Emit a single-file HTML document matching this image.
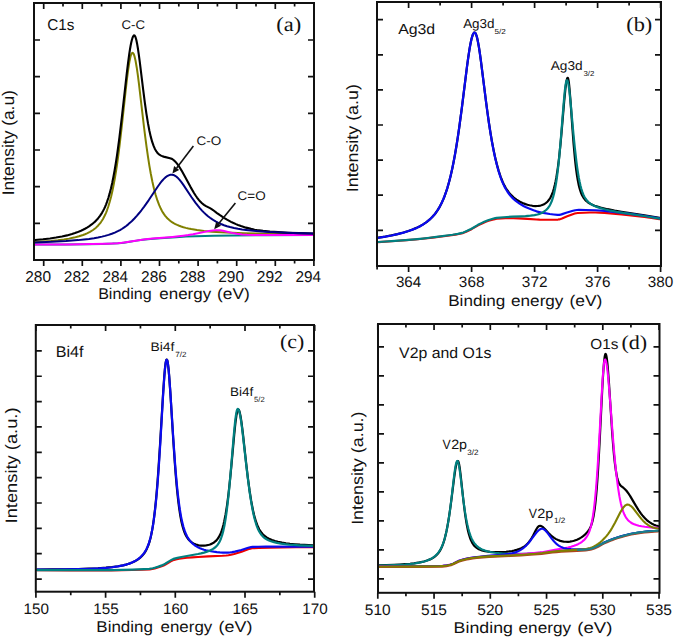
<!DOCTYPE html>
<html><head><meta charset="utf-8"><style>
html,body{margin:0;padding:0;background:#fff;width:675px;height:638px;overflow:hidden}
svg{display:block}
</style></head><body>
<svg width="675" height="638" viewBox="0 0 675 638" text-rendering="geometricPrecision" font-family='"Liberation Sans", sans-serif' fill="#111">
<polyline points="35,244.60 65,244.44 87,244.23 102,243.96 112.60,243.58 118.60,243.18 123.80,242.65 128.20,242.03 136.60,240.63 140.60,240.03 145.20,239.45 150.40,238.94 160.20,238.18 176.20,237.13 186,236.60 195.80,236.21 214,235.73 235,235.43 266,235.24 313,235.10" fill="none" stroke="#008080" stroke-width="2.0" stroke-linejoin="round" stroke-linecap="round"/>
<polyline points="35,242.08 43,241.59 51,240.96 58,240.24 64,239.45 69,238.63 74,237.60 79,236.30 83,235.00 85,234.23 87,233.36 90,231.85 93,229.99 95,228.49 96,227.64 98,225.71 100,223.39 101,222.05 102,220.56 103,218.92 104,217.08 105,215.05 106,212.78 107,210.26 108.40,206.24 109.80,201.58 111.20,196.20 112.40,190.96 113.60,185.08 114.80,178.53 116,171.27 117.20,163.28 118.40,154.56 119.60,145.13 121.80,126.21 126.20,85.70 127.20,77.20 128.20,69.53 129.40,61.85 130.40,57.06 131,55.00 131.40,54.00 131.80,53.30 132,53.07 132.40,52.83 132.80,52.90 133,53.04 133.40,53.54 134,54.80 134.60,56.66 135.60,61.00 136.80,67.98 137.80,74.97 138.80,82.74 144,127.00 145.40,138.21 146.60,147.22 148,156.95 149.40,165.79 150.80,173.75 152.40,181.78 154,188.75 155.60,194.74 157.40,200.44 159.20,205.17 161,209.09 162,210.96 163,212.65 164,214.16 165.20,215.78 166.40,217.22 167.60,218.49 169,219.80 170.40,220.94 172,222.09 173.60,223.09 175.40,224.07 177.20,224.93 179.20,225.76 181.20,226.49 183.40,227.19 185.80,227.86 188.40,228.49 191.20,229.08 197,230.07 204,230.96 212,231.69 221,232.29 232,232.82 244,233.25 257,233.58 273,233.88 291,234.10 313,234.29" fill="none" stroke="#808000" stroke-width="2.0" stroke-linejoin="round" stroke-linecap="round"/>
<polyline points="35,244.57 69,244.38 92,244.11 107,243.75 112.80,243.49 117.60,243.18 121.80,242.78 125.80,242.29 138.80,240.16 145.60,239.25 152.60,238.56 172.60,236.88 178.40,236.29 183.40,235.69 188.20,235.01 193,234.20 206,231.61 209,231.06 213,230.50 215,230.32 217,230.23 218,230.22 220,230.33 223,230.78 225,231.20 232,232.88 237,233.84 242,234.46 247,234.80 253,234.98 262,235.06 313,235.06" fill="none" stroke="#ff00ff" stroke-width="2.0" stroke-linejoin="round" stroke-linecap="round"/>
<polyline points="35,239.95 43,239.23 50,238.43 56,237.58 62,236.51 67,235.40 72,234.04 75,233.07 77,232.35 81,230.71 83,229.77 85,228.74 87,227.61 89,226.36 92,224.21 94,222.55 95,221.64 97,219.61 98,218.48 100,215.91 102,212.84 103,211.08 104,209.13 105,206.98 106,204.59 107,201.94 108.40,197.75 109.60,193.65 111,188.20 112.20,182.91 113.40,177.00 114.60,170.44 115.80,163.22 117,155.32 118.20,146.75 119.40,137.56 121.80,117.55 126.80,73.13 128,63.30 129.20,54.44 130,49.25 130.60,45.80 131.20,42.79 131.80,40.25 132.40,38.20 133,36.66 133.60,35.67 133.80,35.47 134,35.35 134.20,35.33 134.60,35.52 135,36.05 135.40,36.90 136,38.74 136.40,40.32 137,43.17 138,49.04 138.80,54.53 139.80,62.09 143.20,89.86 144.80,102.30 146.40,113.58 148,123.41 149.40,130.75 150.80,136.90 152.20,141.92 153.60,145.94 154.80,148.66 155.40,149.81 156.20,151.14 157,152.26 157.80,153.20 158.60,153.99 159.40,154.64 161,155.62 162.80,156.37 164.60,156.89 170,158.17 170.80,158.42 171.60,158.76 172.80,159.46 174,160.39 175.20,161.53 176.40,162.87 177.60,164.40 178.80,166.10 180.20,168.26 181.60,170.59 184.20,175.22 190.60,187.12 194,192.98 195.60,195.49 197,197.52 199,200.11 200,201.26 202,203.27 204,204.89 206,206.16 210,208.17 212,209.31 213,210.02 217,213.09 220,215.22 224,217.85 227,219.66 231,221.83 233,222.81 236,224.15 238,224.97 241,226.08 246,227.63 251,228.88 254,229.49 257,230.02 263,230.87 270,231.59 278,232.17 288,232.68 299,233.08 313,233.44" fill="none" stroke="#000000" stroke-width="2.1" stroke-linejoin="round" stroke-linecap="round"/>
<polyline points="35,242.53 52,241.86 66,241.07 78,240.12 84,239.50 89,238.89 94,238.15 98,237.45 102,236.61 105,235.89 108.60,234.86 111.80,233.78 114.80,232.60 117.80,231.21 120,230.05 122.20,228.74 124.20,227.41 126.20,225.95 128.20,224.35 130.20,222.60 132.20,220.70 134.40,218.46 136.80,215.83 139.20,213.01 141.60,210.02 144.20,206.58 148.80,200.06 158,186.28 160.20,183.24 162.20,180.74 163.40,179.39 164.60,178.17 165.80,177.12 167,176.24 168.20,175.55 169.20,175.12 170.40,174.80 171.40,174.69 172.20,174.73 173.20,174.93 174.20,175.30 175.20,175.83 176.20,176.52 177.20,177.36 178.20,178.32 179.40,179.63 181.20,181.87 183.20,184.63 191.40,196.97 195.40,202.62 198,205.98 200,208.37 202,210.58 204,212.63 206,214.50 208,216.22 210,217.78 212,219.19 214,220.47 216,221.63 218,222.67 221,224.03 224,225.20 227,226.19 230,227.04 234,228.00 238,228.78 242,229.43 246,229.98 251,230.56 256,231.04 262,231.51 269,231.97 276,232.34 293,233.00 313,233.50" fill="none" stroke="#000080" stroke-width="2.0" stroke-linejoin="round" stroke-linecap="round"/>
<line x1="193.4" y1="146.1" x2="176.65" y2="168.04" stroke="#111" stroke-width="1.6"/><polygon points="172.4,173.6 174.11,166.09 179.19,169.98" fill="#111"/>
<line x1="235.4" y1="203" x2="218.60" y2="223.76" stroke="#111" stroke-width="1.6"/><polygon points="214.2,229.2 216.12,221.75 221.09,225.77" fill="#111"/>
<polyline points="378.50,237.68 385.50,236.54 391.50,235.40 397.50,234.08 403.50,232.52 408.50,230.99 412.50,229.56 416.50,227.89 420.50,225.90 423.50,224.15 426.50,222.11 429.50,219.69 431.50,217.82 432.50,216.79 434.50,214.51 435.50,213.25 437.50,210.44 439.50,207.17 441.50,203.35 443.50,198.89 444.50,196.38 446.50,190.73 447.50,187.56 449.20,181.57 450.60,176.03 452.20,168.96 453.60,162.09 455,154.54 456.40,146.29 457.80,137.35 459.20,127.74 461.80,108.32 467,66.61 468.20,57.77 469.40,49.83 470.20,45.20 470.80,42.13 471.40,39.43 472,37.15 472.60,35.30 473.20,33.90 473.80,32.99 474.20,32.65 474.50,32.56 474.80,32.61 475,32.73 475.50,33.32 476,34.30 476.60,36.00 477,37.42 477.60,39.97 478.80,46.40 479.80,52.88 480.80,60.09 486.20,102.92 487.60,113.41 489,123.25 490.50,132.97 492,141.75 493.50,149.62 495,156.66 496.80,164.13 498.60,170.61 500.50,176.39 501.50,179.04 502.50,181.45 503.50,183.65 504.50,185.64 505.50,187.45 506.50,189.10 508.50,191.98 509.50,193.23 511.50,195.43 513.50,197.29 514.50,198.12 516.50,199.60 519.50,201.46 522.50,202.94 525.50,204.10 527.50,204.71 529.50,205.22 532.50,205.78 535.50,206.05 537.50,206.02 538.50,205.93 540.50,205.55 541.50,205.26 542.80,204.76 544,204.19 545,203.60 546,202.90 546.80,202.24 547.60,201.48 548.40,200.59 549.80,198.66 550.50,197.48 551.20,196.11 552.20,193.80 553,191.58 554,188.25 554.80,185.08 555.60,181.39 556.40,177.13 557.80,168.11 559,158.55 560.40,145.16 561.60,131.97 564.20,101.19 565.40,88.90 566,84.10 566.60,80.54 567,78.96 567.20,78.43 567.50,77.96 567.60,77.89 567.80,77.91 568,78.21 568.20,78.78 568.60,80.73 569,83.65 569.50,88.49 570.40,99.59 572.50,129.45 573.60,143.83 574.80,157.26 575.50,163.92 576.20,169.76 577,175.50 577.80,180.33 578.60,184.38 579.40,187.73 580.20,190.49 581.20,193.27 582.20,195.48 583.40,197.56 584.80,199.44 586.20,200.91 587.80,202.24 589.80,203.55 591.80,204.58 594.50,205.68 597.50,206.66 600.50,207.50 607.50,209.20 614.50,210.60 621.50,211.74 644.50,215.28 659.50,217.84" fill="none" stroke="#000000" stroke-width="2.2" stroke-linejoin="round" stroke-linecap="round"/>
<polyline points="378.50,242.11 391.50,241.25 406.50,240.16 415.50,239.44 422.50,238.79 432.50,237.66 451.40,235.22 455.40,234.65 458.80,234.06 461.20,233.55 462.60,233.17 464.20,232.61 466.20,231.76 471.50,229.19 476.80,226.08 478.60,225.10 482.60,223.20 485.80,221.83 488.60,220.81 492.50,219.66 494.80,219.11 496.80,218.82 501.50,218.51 505.50,218.32 509.50,218.22 513.50,218.21 518.50,218.37 527.50,218.84 536.50,219.52 539.50,219.67 547.60,219.69 558,219.58 559.20,219.41 560.60,219.01 562,218.47 566.60,216.44 573.40,213.99 574.80,213.56 576.20,213.23 577.80,213.01 584,212.72 589.80,212.55 595.50,212.50 599.50,212.60 604.50,212.91 621.50,214.42 628.50,215.11 637.50,216.12 644.50,216.99 651.50,217.97 659.50,219.21" fill="none" stroke="#ee0000" stroke-width="2.1" stroke-linejoin="round" stroke-linecap="round"/>
<polyline points="378.50,237.76 385.50,236.62 391.50,235.48 397.50,234.16 403.50,232.60 408.50,231.06 412.50,229.62 416.50,227.94 418.50,226.99 420.50,225.95 423.50,224.19 426.50,222.13 429.50,219.69 431.50,217.81 432.50,216.77 434.50,214.48 435.50,213.21 437.50,210.38 439.50,207.09 441.50,203.26 443.50,198.78 444.50,196.26 446.50,190.60 447.50,187.42 449.20,181.43 450.60,175.89 452.20,168.82 453.60,161.95 455,154.41 456.40,146.17 457.80,137.25 459.20,127.65 461.80,108.26 467,66.61 468.20,57.78 469.40,49.84 470.20,45.21 470.80,42.14 471.40,39.45 472,37.16 472.60,35.30 473.20,33.90 473.80,32.98 474.20,32.64 474.50,32.54 474.80,32.59 475,32.70 475.50,33.28 476,34.26 476.60,35.95 477,37.37 477.60,39.92 478.80,46.36 479.80,52.86 481,61.59 486.20,103.08 487.60,113.63 489,123.51 490.60,133.91 492.20,143.24 493.80,151.55 495.40,158.93 497.20,166.26 498.80,171.94 500.50,177.14 501.50,179.85 502.50,182.32 503.50,184.57 504.50,186.62 505.50,188.49 507.50,191.77 509.50,194.52 510.50,195.74 512.50,197.90 513.50,198.87 515.50,200.63 517.50,202.19 519.50,203.58 521.50,204.82 523.50,205.94 525.50,206.95 528.50,208.30 533.50,210.30 536.50,211.33 538.50,211.92 540.50,212.42 543.20,212.96 549.80,214.02 553.60,214.50 557.60,214.92 558.50,214.95 559.50,214.86 561.50,214.40 566.20,212.73 573,210.76 575.20,210.23 577,209.99 578.80,209.95 585.80,210.00 595.50,210.25 599.50,210.49 604.50,210.96 630.50,213.96 638.50,215.00 645.50,215.99 659.50,218.23" fill="none" stroke="#0a0af0" stroke-width="2.2" stroke-linejoin="round" stroke-linecap="round"/>
<polyline points="378.50,241.98 391.50,241.10 405.50,240.06 414.50,239.32 422.50,238.57 429.50,237.78 436.50,236.89 452.50,234.72 457.80,233.86 462,232.93 463.40,232.48 465,231.84 467.20,230.83 471,228.95 472.80,227.94 478,224.83 483,222.37 485.60,221.21 488,220.27 493.60,218.52 495.20,218.14 496.60,217.91 503.50,217.26 512.50,216.66 521.50,216.33 525.50,216.11 530.50,215.68 534.50,215.16 537.50,214.51 539.50,213.88 540.50,213.49 542,212.78 543.40,211.99 544.60,211.19 545.80,210.25 546.80,209.32 547.60,208.46 548.40,207.47 549.20,206.33 550,204.99 550.60,203.84 551.80,201.05 553,197.46 554,193.70 555,189.08 556,183.47 557,176.74 557.80,170.48 558.60,163.35 559.40,155.33 560.80,139.38 563.60,104.04 564.80,91.07 565.40,86.10 566,82.52 566.50,80.76 566.80,80.27 567,80.19 567.20,80.28 567.40,80.54 567.60,80.96 567.80,81.54 568.20,83.16 568.80,86.64 569.40,91.21 570.60,102.71 573.40,133.53 574.80,147.72 576.40,161.65 577.20,167.63 578,172.97 578.80,177.69 579.60,181.80 580.50,185.76 581.40,189.09 582.40,192.17 583.40,194.70 584.50,196.96 585.60,198.78 587,200.63 588.60,202.26 590.40,203.69 592.50,204.97 594.50,205.95 597.50,207.13 600.50,208.13 604.50,209.26 610.50,210.70 616.50,211.85 624.50,213.12 645.50,216.27 659.50,218.58" fill="none" stroke="#008080" stroke-width="2.2" stroke-linejoin="round" stroke-linecap="round"/>
<polyline points="37,570.21 70,570.38 111,570.36 122,570.22 132,570.00 142,569.68 149.80,569.34 152.20,569.01 154.80,568.42 157.80,567.55 162.40,566.02 163.60,565.51 165,564.79 170,561.78 172,560.69 174,559.87 175.80,559.43 179.20,558.80 183,558.25 187,557.79 192,557.34 198,556.93 208,556.38 222.40,555.74 226.20,555.48 228.40,555.25 231,554.75 234.20,553.89 241.60,551.68 248.80,549.07 250.40,548.63 252,548.32 253.20,548.20 259,547.94 270,547.65 296,547.30 313,547.20" fill="none" stroke="#ee0000" stroke-width="2.1" stroke-linejoin="round" stroke-linecap="round"/>
<polyline points="37,569.54 52,569.47 66,569.30 78,569.05 89,568.69 98,568.26 106,567.70 112,567.10 118,566.27 123,565.31 126,564.58 128,564.00 130,563.34 132,562.57 135,561.16 137,560.01 138,559.36 140,557.84 141,556.96 142.20,555.76 143.20,554.62 144.20,553.32 145.20,551.83 146,550.47 146.80,548.92 148.20,545.66 149.40,542.13 150.60,537.68 151.80,532.07 152.80,526.34 153.80,519.48 154.80,511.34 155.80,501.80 156.60,493.09 157.40,483.39 158.40,469.86 160,445.28 163,394.81 164.20,377.25 165,368.19 165.60,363.32 166,361.13 166.20,360.37 166.40,359.85 166.60,359.56 166.80,359.50 167,359.70 167.20,360.13 167.40,360.80 168,364.19 168.60,369.47 169.20,376.32 170.40,393.44 173.20,439.02 174.80,462.78 175.80,475.81 176.60,485.09 177.40,493.36 178.40,502.34 179.40,509.91 180.40,516.22 181.40,521.43 182.60,526.47 183.80,530.42 184.40,532.06 185.20,533.97 185.80,535.21 186.60,536.66 187.40,537.91 188.20,538.99 189,539.93 189.80,540.75 191.40,542.10 193,543.14 194,543.67 196,544.51 198,545.10 199,545.31 201,545.58 202,545.65 204,545.64 206,545.45 207,545.28 209,544.79 210,544.47 212,543.63 213,543.09 214,542.45 215.60,541.17 216.40,540.38 217.20,539.47 218.60,537.50 219.80,535.34 221,532.63 221.80,530.44 222.60,527.90 223.40,524.96 224.20,521.58 225.60,514.44 227,505.59 228.40,494.85 230,480.24 231.40,465.69 234.20,434.83 235,426.83 235.60,421.50 236.40,415.67 237,412.45 237.40,410.95 237.80,409.99 238,409.72 238.20,409.60 238.40,409.60 238.60,409.71 239,410.25 239.40,411.23 239.80,412.60 240.60,416.48 241.40,421.61 242.80,432.75 246.20,463.71 247.80,477.32 249.60,490.77 251.20,500.89 252,505.31 253,510.28 254,514.66 255,518.44 256,521.70 257,524.49 258,526.86 259.20,529.26 260.40,531.23 261.80,533.11 263,534.44 264,535.38 265,536.21 267,537.59 269,538.69 272,539.99 275,541.00 278,541.80 282,542.63 286,543.27 290,543.77 295,544.25 300,544.63 313,545.32" fill="none" stroke="#000000" stroke-width="2.2" stroke-linejoin="round" stroke-linecap="round"/>
<polyline points="37,569.65 52,569.61 66,569.45 79,569.18 90,568.82 99,568.38 106,567.88 112,567.27 118,566.42 123,565.43 126,564.67 128,564.06 130,563.36 132,562.56 135,561.07 137,559.85 138,559.15 140,557.54 141,556.61 142.20,555.34 143.20,554.14 144.20,552.79 145,551.57 145.80,550.22 146.60,548.70 147.40,546.98 148.20,545.02 149,542.80 149.60,540.91 150.80,536.43 152,530.86 153.20,523.94 154.20,516.96 155.20,508.71 156.20,499.05 157,490.21 157.80,480.35 158.80,466.56 160.40,441.38 163.20,393.18 164.40,375.47 165,368.59 165.60,363.52 166,361.28 166.20,360.52 166.40,360.02 166.60,359.77 166.80,359.76 167,360.00 167.20,360.46 167.40,361.15 167.80,363.21 168.40,367.83 169,374.08 170.20,390.14 173.20,437.28 175,462.88 175.80,472.88 176.80,484.04 177.80,493.75 178.80,502.11 179.80,509.24 181,516.35 182.20,522.13 183.40,526.82 184.80,531.17 186.20,534.60 187,536.23 187.80,537.67 188.80,539.25 189.80,540.61 190.80,541.80 192,543.05 193,543.96 195,545.50 196,546.16 198,547.30 200,548.24 202,549.03 204,549.69 206,550.23 208,550.69 211,551.27 213.80,551.71 216.80,552.09 219.80,552.38 222.80,552.58 225.60,552.67 228,552.67 230,552.49 232.20,552.14 234.80,551.57 241.40,549.95 247.40,548.01 249.20,547.48 251,547.09 252.60,546.89 258.20,546.77 266,546.71 313,546.73" fill="none" stroke="#0a0af0" stroke-width="2.2" stroke-linejoin="round" stroke-linecap="round"/>
<polyline points="37,570.09 73,570.21 100,570.15 111,570.06 122,569.86 133,569.54 144,569.06 149,568.79 150.40,568.65 152.80,568.23 155.40,567.56 158.40,566.60 162.60,565.10 163.80,564.54 165.20,563.77 169.80,560.86 171.40,559.92 173,559.11 174.40,558.57 177.40,557.82 181.40,556.97 198,553.99 201,553.34 204,552.58 207,551.64 210,550.46 212,549.48 213,548.91 214,548.25 215,547.50 216,546.61 216.80,545.79 217.60,544.83 218.40,543.71 219.20,542.40 219.80,541.26 221,538.50 222.20,534.94 223.40,530.39 224.40,525.69 225.40,520.04 226.40,513.35 227.20,507.20 228,500.31 229,490.68 230.60,473.18 233.80,435.00 235,422.61 235.80,416.09 236.40,412.44 236.80,410.70 237.20,409.54 237.40,409.19 237.60,408.99 237.80,408.94 238,408.99 238.20,409.14 238.60,409.72 239,410.68 239.40,412.00 240.20,415.65 241.20,421.81 242,427.72 242.80,434.26 246.40,466.28 248,479.66 249.80,493.03 250.60,498.33 251.60,504.36 252.40,508.74 253.40,513.66 254.20,517.16 255.20,521.00 256.20,524.29 257.20,527.09 258.20,529.47 259.20,531.47 260.40,533.46 261.80,535.33 263,536.61 264,537.51 265,538.27 267,539.52 269,540.48 271,541.25 274,542.16 277,542.87 281,543.60 285,544.15 289,544.57 294,544.97 299,545.28 313,545.87" fill="none" stroke="#008080" stroke-width="2.2" stroke-linejoin="round" stroke-linecap="round"/>
<polyline points="379,565.36 394,564.86 400,564.55 405,564.21 410,563.77 414,563.31 418,562.71 421,562.15 424,561.45 427,560.56 430,559.39 432,558.40 433.90,557.24 435.50,556.02 437.10,554.51 438.50,552.86 439.70,551.13 440.90,549.02 441.90,546.89 442.90,544.35 443.90,541.36 444.70,538.60 445.70,534.64 446.50,531.04 447.30,527.01 448.10,522.56 449,517.03 449.90,510.96 451.30,500.55 454.10,478.04 455.30,469.67 456,465.80 456.70,462.97 457,462.12 457.30,461.50 457.70,461.05 457.90,461.01 458.10,461.13 458.30,461.43 458.70,462.51 459.10,464.20 459.70,467.74 460.70,475.59 463.30,499.58 464.70,511.14 465.50,516.88 466.30,521.95 467.10,526.38 468,530.65 468.90,534.23 469.90,537.49 471,540.36 472.10,542.61 473.30,544.51 474.70,546.20 476.10,547.46 477,548.12 477.90,548.67 479.50,549.47 481.10,550.09 483,550.66 485,551.11 487,551.44 490,551.79 493,552.01 497,552.12 500,552.11 503,552.00 506,551.79 509,551.46 512,551.00 514,550.60 516.70,549.91 519,549.16 520.30,548.64 521.70,547.99 522.90,547.34 524,546.66 525.10,545.87 526.10,545.05 527.10,544.13 528.10,543.07 529.90,540.81 531.50,538.36 533,535.70 535.90,530.08 537.10,528.05 537.70,527.23 538.30,526.58 538.90,526.14 539.50,525.93 540.30,525.92 541.30,526.17 542.10,526.56 543.10,527.27 544.90,528.97 548.50,532.94 550.30,534.79 552.10,536.41 554.10,537.91 556.10,539.12 558.10,540.08 560.30,540.87 562.50,541.40 563.90,541.62 565.30,541.75 568,541.78 570,541.61 571,541.46 573,541.04 574,540.76 577,539.67 579,538.72 580,538.17 581.40,537.32 582.80,536.34 584,535.39 585.20,534.34 586.20,533.35 587.20,532.24 588.20,530.98 589,529.81 589.80,528.45 590.40,527.25 591,525.84 591.60,524.16 592.60,520.64 593.60,515.91 594.60,509.58 595.40,503.09 596.20,495.11 596.80,488.04 597.40,479.99 598.20,467.71 599.60,442.41 602.20,390.28 602.80,379.54 603.40,370.18 604,362.64 604.60,357.32 605,355.13 605.20,354.46 605.40,354.08 605.60,353.97 605.80,354.10 606,354.47 606.20,355.08 606.40,355.93 606.80,358.30 607.40,363.39 608,370.05 609,383.70 612.20,432.91 613.20,446.04 614,455.05 614.80,462.65 615.80,470.23 616.80,475.87 617.20,477.66 617.80,479.90 618.20,481.14 618.80,482.68 619.40,483.88 620,484.82 620.60,485.55 621.20,486.13 623.60,487.97 625,489.22 626.20,490.51 627.60,492.27 628.80,493.99 630.20,496.17 635.80,505.66 638.40,509.83 641,513.58 642.40,515.39 643.60,516.82 645.20,518.54 646.80,520.06 648.40,521.40 650.20,522.67 652,523.73 654,524.68 656,525.45 658,526.07" fill="none" stroke="#000000" stroke-width="2.2" stroke-linejoin="round" stroke-linecap="round"/>
<polyline points="379,565.59 387,565.37 394,565.11 400,564.79 405,564.45 410,563.99 414,563.51 418,562.89 421,562.29 424,561.54 426,560.92 429,559.77 431,558.79 433.10,557.53 435.10,556.01 436.90,554.30 438.50,552.39 439.70,550.65 440.90,548.57 442,546.25 443,543.76 444,540.83 444.90,537.76 445.90,533.81 446.70,530.18 447.50,526.11 448.30,521.54 449.10,516.47 450,510.14 451.30,499.91 454,476.61 455,469.16 455.50,466.12 456.10,463.31 456.70,461.53 457,461.07 457.30,460.91 457.50,460.98 457.70,461.19 458,461.77 458.30,462.66 458.90,465.28 459.50,468.85 460.50,476.28 463.50,501.12 464.50,508.39 465.50,514.81 466.30,519.34 467.30,524.27 468.30,528.48 469.30,532.05 470.50,535.60 471.30,537.59 472,539.11 472.70,540.47 473.50,541.83 474.30,543.02 475.30,544.31 476.30,545.41 477.30,546.36 478.30,547.18 479.50,548.02 480.70,548.74 482.10,549.45 485,550.60 488,551.46 491,552.10 495,552.72 499,553.16 503,553.47 507,553.65 512,553.74 517.50,553.72 527.30,553.46 537.50,552.94 542.90,552.52 552.50,551.40 556.50,551.03 561.50,550.75 572,550.30 580.80,549.82 584.80,549.55 588.20,549.23 590,549.00 591,548.80 592.40,548.39 594,547.79 598,546.03 602.40,543.58 604,542.77 608,541.00 611.80,539.48 614.80,538.40 618.60,537.16 622.20,536.06 625.40,535.16 628.40,534.42 631.40,533.80 636.40,532.91 641,532.22 644.80,531.75 648.60,531.38 654,530.95 658,530.73" fill="none" stroke="#008080" stroke-width="2.1" stroke-linejoin="round" stroke-linecap="round"/>
<polyline points="379,566.41 407,566.33 430,566.15 440.50,566.02 442.30,565.91 444.30,565.70 448.10,565.09 450.50,564.60 451.50,564.33 453.30,563.60 456.90,561.76 458.30,561.11 460,560.52 462.90,559.62 465,559.06 467,558.60 471.70,557.84 478.50,556.98 486,556.29 492,555.89 506,555.21 514,554.71 524.70,553.92 534,553.06 540.10,552.38 543.30,551.92 554.90,549.83 564,548.32 568,547.52 571,546.78 574,545.84 576,545.07 578,544.17 580.40,542.85 582,541.76 583.60,540.43 584.60,539.45 585.60,538.29 586.40,537.22 587.20,535.98 588,534.52 588.60,533.26 589.40,531.29 590,529.56 590.60,527.55 591.20,525.21 592.20,520.44 593.20,514.41 594.20,506.86 595.20,497.58 596,488.79 596.80,478.71 597.60,467.31 599,444.36 602,389.37 603,374.00 603.60,366.96 604,363.46 604.40,361.03 604.60,360.25 604.80,359.76 605,359.56 605.20,359.58 605.40,359.76 605.60,360.11 606,361.30 606.40,363.10 606.80,365.50 607.20,368.44 608,375.72 609.40,391.77 612.40,430.92 613.80,448.05 615.20,463.32 616.60,476.44 618,487.34 619.40,496.16 620,499.36 620.80,503.13 621.60,506.38 622.40,509.18 623.40,512.12 624.40,514.53 625.40,516.50 626.60,518.40 627.80,519.90 629.20,521.29 630.80,522.52 632.40,523.48 634.20,524.32 636.40,525.11 638.80,525.76 641.60,526.32 644.80,526.81 648.80,527.26 653,527.60 658,527.92" fill="none" stroke="#ff00ff" stroke-width="2.1" stroke-linejoin="round" stroke-linecap="round"/>
<polyline points="379,566.43 402,566.37 421,566.24 440.10,566.01 442.90,565.84 446.90,565.28 449.90,564.69 451.30,564.36 453.10,563.65 457.10,561.60 458.90,560.82 463.90,559.26 466,558.73 468,558.31 474.50,557.31 481.70,556.44 488,555.84 501,554.80 505,554.39 509,553.84 512,553.26 515,552.47 516.90,551.80 518.50,551.11 519.90,550.40 521.10,549.69 522.50,548.74 523.70,547.81 524.90,546.77 526.10,545.62 528.50,542.98 530.70,540.23 535.50,533.77 537.50,531.41 538.70,530.27 539.70,529.54 540.70,529.04 541.70,528.79 542.50,528.79 543.50,529.11 544.30,529.59 545.30,530.43 546.10,531.26 547.10,532.45 551.70,538.60 553.90,541.26 555.30,542.74 556.50,543.87 557.70,544.86 559.10,545.84 560.50,546.65 562,547.35 563.50,547.90 565.30,548.38 567,548.72 569,548.98 571,549.15 574,549.27 580,549.27 584.20,549.15 588.20,548.88 590,548.69 591,548.51 592.20,548.19 593.40,547.77 597.20,546.21 598.80,545.43 603.60,542.82 606.80,541.40 610.20,540.01 613.40,538.82 616.40,537.81 621,536.37 625,535.24 628.20,534.45 631.20,533.82 636.20,532.94 640.80,532.25 644.60,531.78 648.40,531.41 654,530.97 658,530.74" fill="none" stroke="#0a0af0" stroke-width="2.1" stroke-linejoin="round" stroke-linecap="round"/>
<polyline points="379,567.10 419,566.99 440,566.80 442.30,566.69 444.30,566.49 446.50,566.16 449.50,565.60 451.30,565.19 453.30,564.41 457,562.52 458.50,561.85 461.70,560.81 464.70,559.97 466.70,559.51 468.70,559.15 472.70,558.56 476.70,558.07 483,557.45 489,557.03 510,556.10 521,555.48 530.30,554.87 541.50,553.96 552.50,552.55 556.50,552.14 561.10,551.83 572,551.28 581.60,550.70 585.60,550.39 588.80,550.05 590.20,549.85 591.40,549.58 592.80,549.13 594.40,548.49 598.20,546.78 602.40,544.42 603.80,543.69 607.60,541.99 611.40,540.44 614.40,539.34 618,538.15 621.80,536.96 625.20,535.99 628.20,535.24 631.20,534.60 636.20,533.70 640.80,533.00 644.60,532.52 648.40,532.14 654,531.68 658,531.45" fill="none" stroke="#b04020" stroke-width="2.0" stroke-linejoin="round" stroke-linecap="round"/>
<polyline points="379,566.47 421,566.34 440.10,566.15 442.70,566.01 446.70,565.47 449.70,564.91 451.30,564.54 453.30,563.75 457,561.86 458.50,561.19 461.30,560.27 464.30,559.41 466.30,558.93 468.10,558.58 475.30,557.56 481.50,556.90 488,556.40 493,556.12 506,555.57 513,555.20 524.90,554.47 534.90,553.72 542.30,553.03 552.50,551.64 556.30,551.21 560.90,550.85 572,550.12 582.20,549.23 586.60,548.68 590.20,548.03 591.80,547.51 593.60,546.70 596.20,545.23 598.20,543.94 600,542.49 602,540.66 604.60,538.09 606.40,536.11 608,534.12 609.40,532.19 610.80,530.08 612.20,527.79 615,522.72 620.20,512.59 621.40,510.45 622.40,508.83 623.60,507.16 624.80,505.87 625.40,505.39 626,505.02 626.60,504.78 627.20,504.65 628.20,504.67 628.80,504.81 629.40,505.05 630.60,505.78 632,507.02 633.20,508.32 634.40,509.78 639.20,516.14 641.60,519.10 643,520.66 644.20,521.88 645.40,522.98 646.60,523.96 648,524.97 649.20,525.71 650.40,526.35 651.80,526.97 653,527.41 655,527.99 658,528.58" fill="none" stroke="#808000" stroke-width="2.1" stroke-linejoin="round" stroke-linecap="round"/>
<polyline points="578,549.97 583.40,549.66 587.20,549.34 590.20,548.97 592,548.53 594,547.79 597.40,546.32 598.80,545.61 603.60,542.96 607.20,541.34 610.60,539.94 614.40,538.54 619.20,536.97 623.60,535.65 627.40,534.66 630.40,533.99 634.20,533.29 638.20,532.63 642.20,532.07 645.80,531.65 649.80,531.28 654,530.95 658,530.73" fill="none" stroke="#1a7f8a" stroke-width="2.1" stroke-linejoin="round" stroke-linecap="round"/>
<path d="M43.70 260v6M43.70 3v6M82.30 260v6M82.30 3v6M120.90 260v6M120.90 3v6M159.50 260v6M159.50 3v6M198.10 260v6M198.10 3v6M236.70 260v6M236.70 3v6M275.30 260v6M275.30 3v6M313.90 260v6M313.90 3v6M63.00 260v3.5M63.00 3v3.5M101.60 260v3.5M101.60 3v3.5M140.20 260v3.5M140.20 3v3.5M178.80 260v3.5M178.80 3v3.5M217.40 260v3.5M217.40 3v3.5M256.00 260v3.5M256.00 3v3.5M294.60 260v3.5M294.60 3v3.5M34 40.00h6M314 40.00h-6M34 76.67h6M314 76.67h-6M34 113.34h6M314 113.34h-6M34 150.01h6M314 150.01h-6M34 186.68h6M314 186.68h-6M34 223.35h6M314 223.35h-6" stroke="#111" stroke-width="1.7" fill="none"/>
<rect x="34" y="3" width="280" height="257" stroke="#111" stroke-width="2" fill="none"/>
<text x="25.23" y="282" font-size="15.6" textLength="25.77" lengthAdjust="spacingAndGlyphs">280</text>
<text x="63.82" y="282" font-size="15.6" textLength="25.97" lengthAdjust="spacingAndGlyphs">282</text>
<text x="102.43" y="282" font-size="15.6" textLength="25.60" lengthAdjust="spacingAndGlyphs">284</text>
<text x="141.03" y="282" font-size="15.6" textLength="25.85" lengthAdjust="spacingAndGlyphs">286</text>
<text x="179.63" y="282" font-size="15.6" textLength="25.85" lengthAdjust="spacingAndGlyphs">288</text>
<text x="218.23" y="282" font-size="15.6" textLength="25.77" lengthAdjust="spacingAndGlyphs">290</text>
<text x="256.82" y="282" font-size="15.6" textLength="25.97" lengthAdjust="spacingAndGlyphs">292</text>
<text x="295.43" y="282" font-size="15.6" textLength="25.60" lengthAdjust="spacingAndGlyphs">294</text>
<path d="M408.60 266v6M408.60 2v6M471.60 266v6M471.60 2v6M534.60 266v6M534.60 2v6M597.60 266v6M597.60 2v6M660.60 266v6M660.60 2v6M377.10 266v3.5M377.10 2v3.5M440.10 266v3.5M440.10 2v3.5M503.10 266v3.5M503.10 2v3.5M566.10 266v3.5M566.10 2v3.5M629.10 266v3.5M629.10 2v3.5M377 19.70h6M661 19.70h-6M377 54.80h6M661 54.80h-6M377 89.90h6M661 89.90h-6M377 125.00h6M661 125.00h-6M377 160.10h6M661 160.10h-6M377 195.20h6M661 195.20h-6M377 230.30h6M661 230.30h-6" stroke="#111" stroke-width="1.7" fill="none"/>
<rect x="377" y="2" width="284" height="264" stroke="#111" stroke-width="2" fill="none"/>
<text x="395.88" y="287" font-size="15.2" textLength="25.30" lengthAdjust="spacingAndGlyphs">364</text>
<text x="458.88" y="287" font-size="15.2" textLength="25.54" lengthAdjust="spacingAndGlyphs">368</text>
<text x="521.87" y="287" font-size="15.2" textLength="25.66" lengthAdjust="spacingAndGlyphs">372</text>
<text x="584.88" y="287" font-size="15.2" textLength="25.54" lengthAdjust="spacingAndGlyphs">376</text>
<text x="647.88" y="287" font-size="15.2" textLength="25.46" lengthAdjust="spacingAndGlyphs">380</text>
<path d="M35.90 591.7v6M35.90 325v6M105.60 591.7v6M105.60 325v6M175.30 591.7v6M175.30 325v6M245.00 591.7v6M245.00 325v6M314.70 591.7v6M314.70 325v6M70.75 591.7v3.5M70.75 325v3.5M140.45 591.7v3.5M140.45 325v3.5M210.15 591.7v3.5M210.15 325v3.5M279.85 591.7v3.5M279.85 325v3.5M35.8 350.90h6M314 350.90h-6M35.8 376.25h6M314 376.25h-6M35.8 401.60h6M314 401.60h-6M35.8 426.95h6M314 426.95h-6M35.8 452.30h6M314 452.30h-6M35.8 477.65h6M314 477.65h-6M35.8 503.00h6M314 503.00h-6M35.8 528.35h6M314 528.35h-6M35.8 553.70h6M314 553.70h-6M35.8 579.05h6M314 579.05h-6" stroke="#111" stroke-width="1.7" fill="none"/>
<rect x="35.8" y="325" width="278.2" height="266.70000000000005" stroke="#111" stroke-width="2" fill="none"/>
<text x="23.51" y="614" font-size="15.2" textLength="25.43" lengthAdjust="spacingAndGlyphs">150</text>
<text x="93.21" y="614" font-size="15.2" textLength="25.47" lengthAdjust="spacingAndGlyphs">155</text>
<text x="162.91" y="614" font-size="15.2" textLength="25.43" lengthAdjust="spacingAndGlyphs">160</text>
<text x="232.61" y="614" font-size="15.2" textLength="25.47" lengthAdjust="spacingAndGlyphs">165</text>
<text x="302.31" y="614" font-size="15.2" textLength="25.43" lengthAdjust="spacingAndGlyphs">170</text>
<path d="M377.80 592.8v6M377.80 324v6M434.05 592.8v6M434.05 324v6M490.30 592.8v6M490.30 324v6M546.55 592.8v6M546.55 324v6M602.80 592.8v6M602.80 324v6M659.05 592.8v6M659.05 324v6M405.93 592.8v3.5M405.93 324v3.5M462.18 592.8v3.5M462.18 324v3.5M518.42 592.8v3.5M518.42 324v3.5M574.67 592.8v3.5M574.67 324v3.5M630.92 592.8v3.5M630.92 324v3.5M378 346.80h6M659.5 346.80h-6M378 375.80h6M659.5 375.80h-6M378 404.80h6M659.5 404.80h-6M378 433.80h6M659.5 433.80h-6M378 462.80h6M659.5 462.80h-6M378 491.80h6M659.5 491.80h-6M378 520.80h6M659.5 520.80h-6M378 549.80h6M659.5 549.80h-6M378 578.80h6M659.5 578.80h-6" stroke="#111" stroke-width="1.7" fill="none"/>
<rect x="378" y="324" width="281.5" height="268.79999999999995" stroke="#111" stroke-width="2" fill="none"/>
<text x="364.88" y="615" font-size="15.2" textLength="25.81" lengthAdjust="spacingAndGlyphs">510</text>
<text x="421.13" y="615" font-size="15.2" textLength="25.86" lengthAdjust="spacingAndGlyphs">515</text>
<text x="477.38" y="615" font-size="15.2" textLength="25.81" lengthAdjust="spacingAndGlyphs">520</text>
<text x="533.63" y="615" font-size="15.2" textLength="25.86" lengthAdjust="spacingAndGlyphs">525</text>
<text x="589.88" y="615" font-size="15.2" textLength="25.81" lengthAdjust="spacingAndGlyphs">530</text>
<text x="646.13" y="615" font-size="15.2" textLength="25.86" lengthAdjust="spacingAndGlyphs">535</text>
<text x="47.34" y="30" font-size="15.6" textLength="27.11" lengthAdjust="spacingAndGlyphs">C1s</text>
<text x="121.44" y="29.4" font-size="12.6" textLength="23.59" lengthAdjust="spacingAndGlyphs">C-C</text>
<text x="276.19" y="30.9" font-size="20.3" textLength="24.97" lengthAdjust="spacingAndGlyphs" font-family='"Liberation Serif", serif'>(a)</text>
<text x="196.63" y="144.6" font-size="12.4" textLength="24.72" lengthAdjust="spacingAndGlyphs">C-O</text>
<text x="237.63" y="200" font-size="12.6" textLength="28.03" lengthAdjust="spacingAndGlyphs">C=O</text>
<text x="98.18" y="299" font-size="15.6" textLength="53.54" lengthAdjust="spacingAndGlyphs">Binding</text>
<text x="159.38" y="299" font-size="15.6" textLength="51.77" lengthAdjust="spacingAndGlyphs">energy</text>
<text x="217.02" y="299" font-size="15.6" textLength="32.69" lengthAdjust="spacingAndGlyphs">(eV)</text>
<text transform="translate(14.0 195.20) rotate(-90)" x="0" y="0" font-size="16.8" textLength="105.00" lengthAdjust="spacingAndGlyphs">Intensity (a.u)</text>
<text x="398.16" y="34" font-size="14.4" textLength="37.04" lengthAdjust="spacingAndGlyphs">Ag3d</text>
<text x="463.17" y="27.6" font-size="13.0" textLength="31.38" lengthAdjust="spacingAndGlyphs">Ag3d</text>
<text x="494.47" y="33.7" font-size="7.3" textLength="11.34" lengthAdjust="spacingAndGlyphs">5/2</text>
<text x="550.77" y="69.9" font-size="12.8" textLength="31.89" lengthAdjust="spacingAndGlyphs">Ag3d</text>
<text x="583.40" y="75.5" font-size="7.3" textLength="10.99" lengthAdjust="spacingAndGlyphs">3/2</text>
<text x="626.19" y="30.9" font-size="20.3" textLength="26.08" lengthAdjust="spacingAndGlyphs" font-family='"Liberation Serif", serif'>(b)</text>
<text x="448.19" y="306" font-size="15.6" textLength="57.10" lengthAdjust="spacingAndGlyphs">Binding</text>
<text x="511.07" y="306" font-size="15.6" textLength="52.37" lengthAdjust="spacingAndGlyphs">energy</text>
<text x="569.41" y="306" font-size="15.6" textLength="32.91" lengthAdjust="spacingAndGlyphs">(eV)</text>
<text transform="translate(358.2 192.25) rotate(-90)" x="0" y="0" font-size="16.3" textLength="108.08" lengthAdjust="spacingAndGlyphs">Intensity (a.u)</text>
<text x="55.77" y="357" font-size="15.5" textLength="27.80" lengthAdjust="spacingAndGlyphs">Bi4f</text>
<text x="150.45" y="350.6" font-size="12.3" textLength="23.92" lengthAdjust="spacingAndGlyphs">Bi4f</text>
<text x="175.18" y="356.6" font-size="7.5" textLength="11.23" lengthAdjust="spacingAndGlyphs">7/2</text>
<text x="229.98" y="395.9" font-size="12.3" textLength="23.29" lengthAdjust="spacingAndGlyphs">Bi4f</text>
<text x="254.09" y="401.7" font-size="7.5" textLength="10.69" lengthAdjust="spacingAndGlyphs">5/2</text>
<text x="279.91" y="348.0" font-size="19.5" textLength="24.31" lengthAdjust="spacingAndGlyphs" font-family='"Liberation Serif", serif'>(c)</text>
<text x="96.30" y="632" font-size="15.6" textLength="56.68" lengthAdjust="spacingAndGlyphs">Binding</text>
<text x="160.58" y="632" font-size="15.6" textLength="51.66" lengthAdjust="spacingAndGlyphs">energy</text>
<text x="218.58" y="632" font-size="15.6" textLength="33.76" lengthAdjust="spacingAndGlyphs">(eV)</text>
<text transform="translate(17.3 523.39) rotate(-90)" x="0" y="0" font-size="16.5" textLength="115.86" lengthAdjust="spacingAndGlyphs">Intensity (a.u.)</text>
<text x="399.12" y="358" font-size="15.2" textLength="92.43" lengthAdjust="spacingAndGlyphs">V2p and O1s</text>
<text x="590.27" y="349" font-size="14.6" textLength="28.05" lengthAdjust="spacingAndGlyphs">O1s</text>
<text x="621.41" y="348.5" font-size="20" textLength="25.76" lengthAdjust="spacingAndGlyphs" font-family='"Liberation Serif", serif'>(d)</text>
<text x="442.44" y="448.8" font-size="13.5" textLength="8.22" lengthAdjust="spacingAndGlyphs">V</text>
<text x="451.18" y="448.8" font-size="13.5" textLength="15.92" lengthAdjust="spacingAndGlyphs">2p</text>
<text x="467.19" y="454.5" font-size="7.8" textLength="11.31" lengthAdjust="spacingAndGlyphs">3/2</text>
<text x="528.64" y="517.6" font-size="13.5" textLength="8.22" lengthAdjust="spacingAndGlyphs">V</text>
<text x="537.17" y="517.6" font-size="13.5" textLength="16.14" lengthAdjust="spacingAndGlyphs">2p</text>
<text x="553.98" y="522.9" font-size="7.8" textLength="11.43" lengthAdjust="spacingAndGlyphs">1/2</text>
<text x="453.63" y="633" font-size="15.6" textLength="59.30" lengthAdjust="spacingAndGlyphs">Binding</text>
<text x="518.57" y="633" font-size="15.6" textLength="52.48" lengthAdjust="spacingAndGlyphs">energy</text>
<text x="577.34" y="633" font-size="15.6" textLength="35.05" lengthAdjust="spacingAndGlyphs">(eV)</text>
<text transform="translate(362.8 524.86) rotate(-90)" x="0" y="0" font-size="16.3" textLength="113.39" lengthAdjust="spacingAndGlyphs">Intensity (a.u.)</text>
</svg>
</body></html>
